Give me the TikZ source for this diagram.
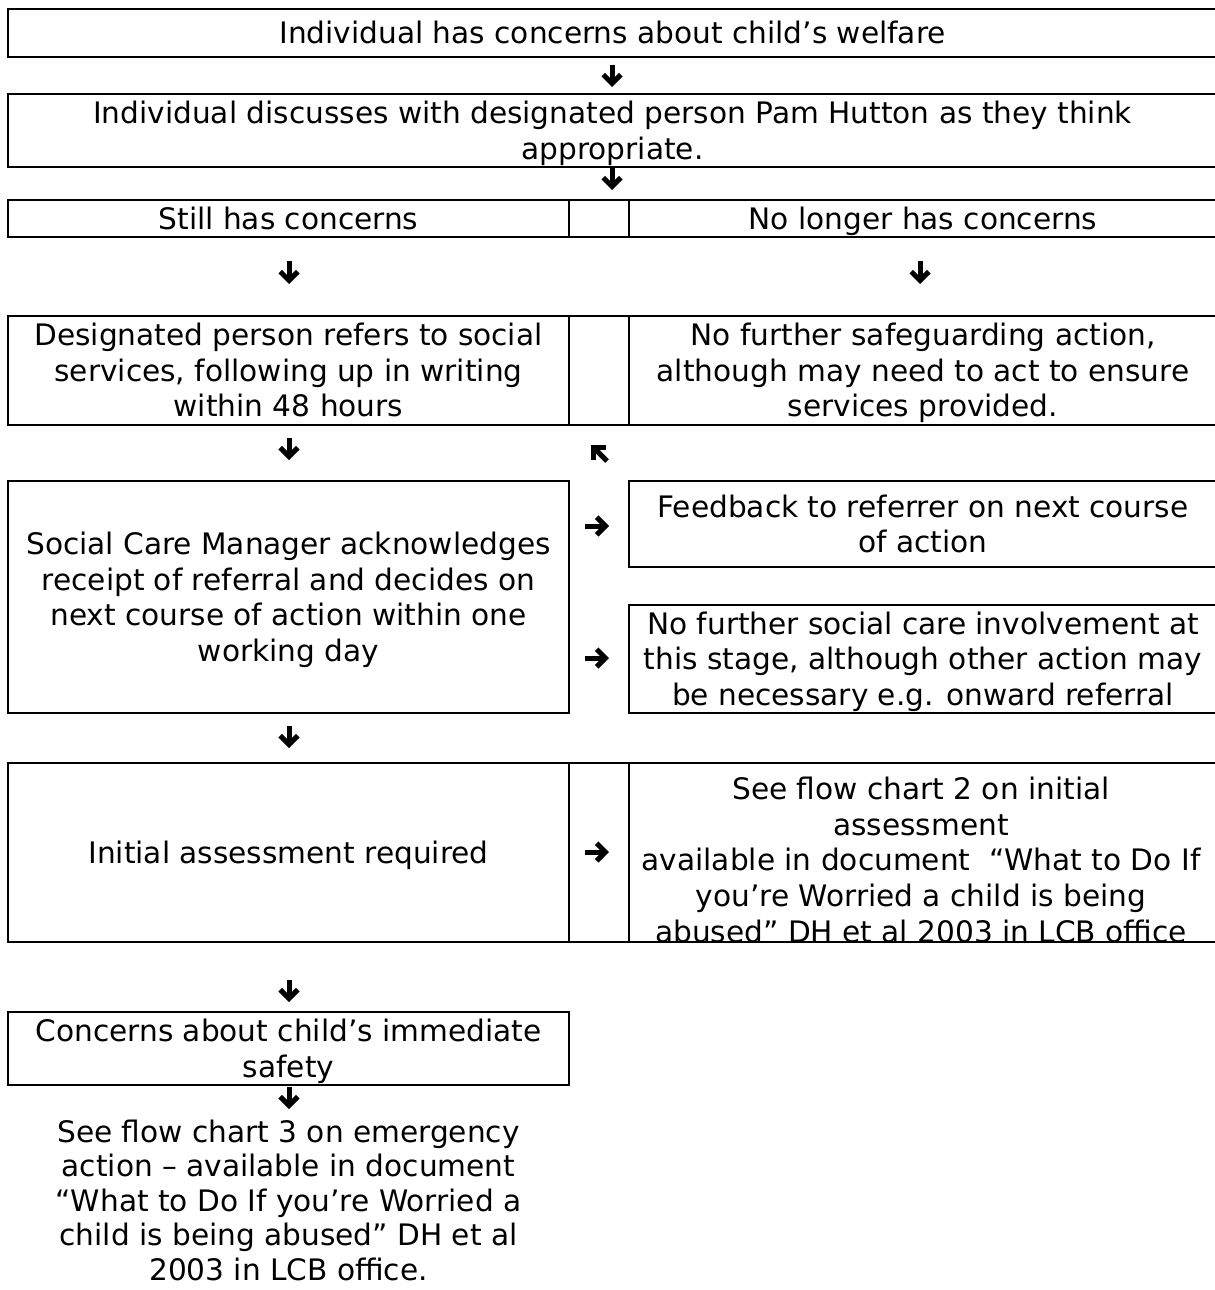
\documentclass[tikz,border=0pt]{standalone}
\usepackage{fontspec}
\setmainfont{DejaVu Sans}
\usetikzlibrary{arrows.meta}
\newcommand\cst{\rule[-0.235em]{0pt}{1.2em}}
\begin{document}
\begin{tikzpicture}[x=0.5pt, y=-0.5pt,
  every node/.style={inner sep=0pt, outer sep=0pt},
  txt/.style={font=\fontsize{14.8pt}{17.8pt}\selectfont, align=center},
  cell/.style={draw, line width=1.1pt, txt},
  fat/.style={line width=2.5pt, -{Straight Barb[length=4.4pt,width=8.8pt,sharp]}}]
\useasboundingbox (0,0) rectangle (1215,1290);

% row 1 and 2
\node[cell, minimum width=604.5pt, minimum height=24pt] (b1) at (612.5,33) {\cst Individual has concerns about child’s welfare\cst};
\node[cell, minimum width=604.5pt, minimum height=36.5pt] (b2) at (612.5,130.5) {\cst Individual discusses with designated person Pam Hutton as they think\\appropriate.\cst};

% row 3
\node[cell, minimum width=280.5pt, minimum height=18.5pt] (r3l) at (288.5,218.5) {\cst Still has concerns\cst};
\node[cell, minimum width=30pt, minimum height=18.5pt] (r3m) at (599,218.5) {};
\node[cell, minimum width=294pt, minimum height=18.5pt] (r3r) at (923,218.5) {\cst No longer has concerns\cst};

% row 4
\node[cell, minimum width=280.5pt, minimum height=54.5pt] (r4l) at (288.5,370.5) {\cst Designated person refers to social\\services, following up in writing\\within 48 hours\cst};
\node[cell, minimum width=30pt, minimum height=54.5pt] (r4m) at (599,370.5) {};
\node[cell, minimum width=294pt, minimum height=54.5pt] (r4r) at (923,370.5) {\cst No further safeguarding action,\\although may need to act to ensure\\services provided.\cst};

% row 5
\node[cell, minimum width=280.5pt, minimum height=116pt] (b5) at (288.5,597) {\cst Social Care Manager acknowledges\\receipt of referral and decides on\\next course of action within one\\working day\cst};
\node[cell, minimum width=294pt, minimum height=43pt] (fb) at (923,524) {\cst Feedback to referrer on next course\\of action\cst};
\node[cell, minimum width=294pt, minimum height=54pt] (nf) at (923,659) {\cst No further social care involvement at\\this stage, although other action may\\be necessary e.g. onward referral\cst};

% row 6
\node[cell, minimum width=280.5pt, minimum height=89.5pt] (r6l) at (288.5,852.5) {\cst Initial assessment required\cst};
\node[cell, minimum width=30pt, minimum height=89.5pt] (r6m) at (599,852.5) {};
\node[cell, minimum width=294pt, minimum height=89.5pt] (r6r) at (923,852.5) {};
\node[txt] (r6t) at (921,860) {\cst See flow chart 2 on initial\\assessment\\available in document\ \ “What to Do If\\you’re Worried a child is being\\abused” DH et al 2003 in LCB office\cst};

% bottom
\node[cell, minimum width=280.5pt, minimum height=36.5pt] (cc) at (288.5,1048.5) {\cst Concerns about child’s immediate\\safety\cst};
\node[txt, font=\fontsize{14.8pt}{17.2pt}\selectfont, anchor=north] (bt) at (288.5,1114) {\cst See flow chart 3 on emergency\\action – available in document\\“What to Do If you’re Worried a\\child is being abused” DH et al\\2003 in LCB office.};

% arrow symbols
\coordinate (a1s) at (612,65);   \coordinate (a1e) at (612,87);
\coordinate (a2s) at (612,168);  \coordinate (a2e) at (612,190);
\coordinate (a3s) at (289,261);  \coordinate (a3e) at (289,284);
\coordinate (a4s) at (920,261);  \coordinate (a4e) at (920,284);
\coordinate (a5s) at (289,438);  \coordinate (a5e) at (289,460);
\coordinate (a6s) at (607,461);  \coordinate (a6e) at (591,445);
\coordinate (a7s) at (585,526);  \coordinate (a7e) at (609,526);
\coordinate (a8s) at (585,658);  \coordinate (a8e) at (609,658);
\coordinate (a9s) at (289,726);  \coordinate (a9e) at (289,748);
\coordinate (a10s) at (585,852); \coordinate (a10e) at (609,852);
\coordinate (a11s) at (289,980); \coordinate (a11e) at (289,1002);
\coordinate (a12s) at (289,1087); \coordinate (a12e) at (289,1109);
\foreach \i in {1,...,12} {\draw[fat] (a\i s) -- (a\i e);}
\end{tikzpicture}
\end{document}
